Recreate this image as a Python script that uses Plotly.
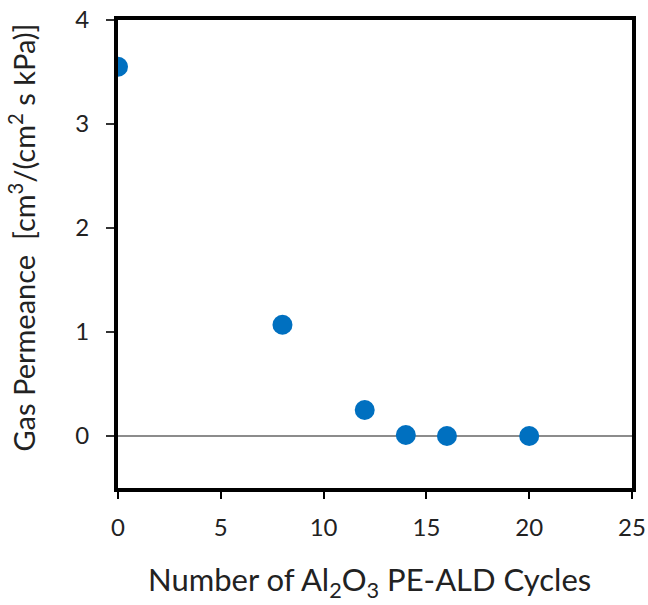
import plotly.graph_objects as go

cycles = [0, 8, 12, 14, 16, 20]
permeance = [3.55, 1.07, 0.25, 0.01, 0.0, 0.0]

x_ticks = [0, 5, 10, 15, 20, 25]
y_ticks = [0, 1, 2, 3, 4]

x_title = "Number of Al<sub>2</sub>O<sub>3</sub> PE-ALD Cycles"
y_title = "Gas Permeance  [cm<sup>3</sup>/(cm<sup>2</sup> s kPa)]"

fig = go.Figure()
fig.add_trace(go.Scatter(
    x=cycles, y=permeance, mode="markers",
    marker=dict(size=20, color="#0070C0"),
    cliponaxis=True, showlegend=False,
))

fig.update_layout(
    width=648, height=605,
    margin=dict(l=118, r=16, t=20, b=117),
    plot_bgcolor="white", paper_bgcolor="white",
    font=dict(family="Lato, Open Sans, sans-serif", color="#222222", size=24),
    xaxis=dict(
        range=[0, 25], tickvals=x_ticks, showgrid=False, zeroline=False,
        showline=True, linewidth=4, linecolor="black", mirror=True,
        ticks="outside", ticklen=7, tickwidth=2, tickcolor="black",
        tickfont=dict(size=24), ticklabelstandoff=8, automargin=False,
    ),
    yaxis=dict(
        range=[-0.5, 4], tickvals=y_ticks, showgrid=False,
        zeroline=True, zerolinecolor="#8c8c8c", zerolinewidth=1.5,
        showline=True, linewidth=4, linecolor="black", mirror=True,
        ticks="outside", ticklen=8, tickwidth=1.5, tickcolor="#333333",
        tickfont=dict(size=24), ticklabelstandoff=12, automargin=False,
    ),
    annotations=[
        dict(text=x_title, xref="paper", yref="paper", x=0.49, y=-0.2,
             xanchor="center", yanchor="middle", showarrow=False,
             font=dict(size=31, color="#222222")),
        dict(text=y_title, xref="paper", yref="paper", x=-0.187, y=0.535,
             xanchor="center", yanchor="middle", showarrow=False, textangle=-90,
             font=dict(size=29, color="#222222")),
    ],
)

fig.write_html("out.html", config={"displayModeBar": False},
               post_script="document.body.style.margin='0';")
